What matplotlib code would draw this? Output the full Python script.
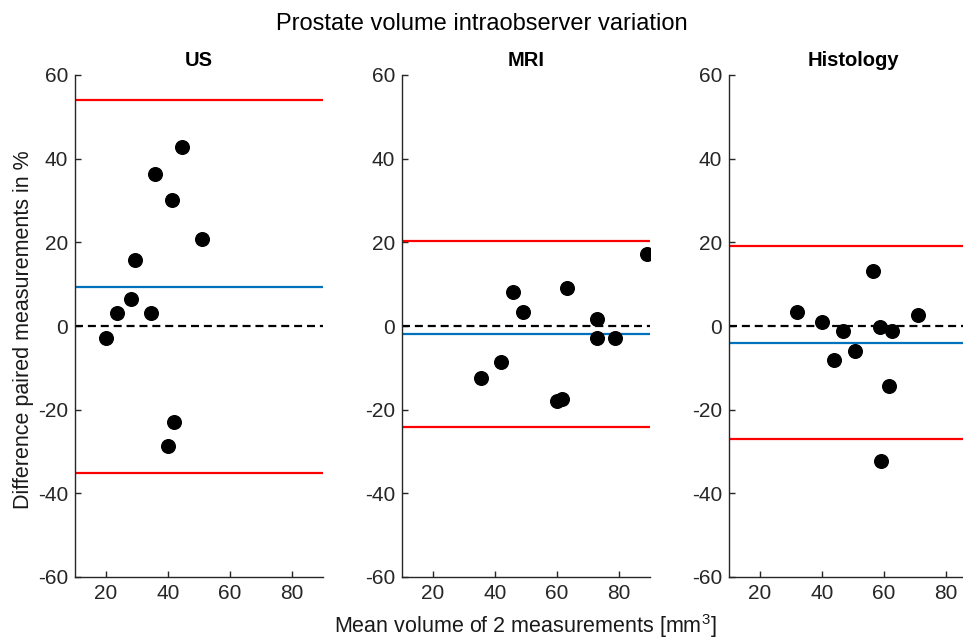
import matplotlib
matplotlib.use("Agg")
import matplotlib.pyplot as plt

plt.rcParams["font.family"] = ["Liberation Sans", "DejaVu Sans"]
plt.rcParams["mathtext.fontset"] = "custom"
plt.rcParams["mathtext.rm"] = "Liberation Sans"
plt.rcParams["axes.unicode_minus"] = False

AXIS_COLOUR = "#262626"
RED = "#FF0000"
BLUE = "#0072BD"

panels = ["US", "MRI", "Histology"]

# mean volume of the two measurements (mm^3) and difference (%)
us_mean = [20.0, 23.4, 28.1, 29.4, 34.5, 35.9, 41.3, 44.4, 50.9, 42.0, 39.9]
us_diff = [-2.9, 3.0, 6.5, 15.8, 3.0, 36.4, 30.1, 42.7, 20.8, -23.0, -28.6]

mri_mean = [89.1, 45.9, 49.1, 63.1, 73.0, 72.8, 78.7, 35.4, 41.9, 60.1, 61.5]
mri_diff = [17.2, 8.2, 3.3, 9.2, 1.6, -2.8, -2.8, -12.4, -8.5, -17.9, -17.5]

hist_mean = [31.8, 39.9, 56.5, 46.9, 58.7, 62.5, 71.1, 44.0, 50.6, 61.7, 59.0]
hist_diff = [3.4, 1.0, 13.1, -1.2, -0.2, -1.1, 2.6, -8.1, -5.9, -14.3, -32.3]

# bias and limits of agreement per panel: (upper, bias, lower)
us_limits = [54.1, 9.4, -35.2]
mri_limits = [20.2, -2.0, -24.2]
hist_limits = [19.1, -4.0, -26.9]

means = [us_mean, mri_mean, hist_mean]
diffs = [us_diff, mri_diff, hist_diff]
limits = [us_limits, mri_limits, hist_limits]

x_ticks = [20, 40, 60, 80]
y_ticks = [-60, -40, -20, 0, 20, 40, 60]

W, H = 963, 640
fig = plt.figure(figsize=(W / 100, H / 100), dpi=100)

lefts = [75, 402, 729]
width = 248
top, bottom = 75, 577

for i, name in enumerate(panels):
    ax = fig.add_axes([lefts[i] / W, 1 - bottom / H, width / W, (bottom - top) / H])
    upper, bias, lower = limits[i]
    xr = [10, 90]
    ax.plot(xr, [0, 0], color="black", linewidth=1.6, dashes=(3.6, 2.2))
    ax.plot(xr, [upper, upper], color=RED, linewidth=1.6)
    ax.plot(xr, [lower, lower], color=RED, linewidth=1.6)
    ax.plot(xr, [bias, bias], color=BLUE, linewidth=1.6)
    ax.plot(means[i], diffs[i], "o", color="black", markersize=9.8, linestyle="none")

    ax.set_xlim(10, 90)
    ax.set_ylim(-60, 60)
    ax.set_xticks(x_ticks)
    ax.set_yticks(y_ticks)
    ax.spines["top"].set_visible(False)
    ax.spines["right"].set_visible(False)
    for side in ["left", "bottom"]:
        ax.spines[side].set_color(AXIS_COLOUR)
        ax.spines[side].set_linewidth(1.0)
    ax.tick_params(direction="in", length=4, width=1.0, colors=AXIS_COLOUR,
                   labelsize=15, labelcolor=AXIS_COLOUR, pad=5)
    fig.text((lefts[i] + width / 2) / W, 1 - 66 / H, name, ha="center",
             va="baseline", fontsize=14.5, fontweight="bold")

fig.text(482 / W, 1 - 30 / H, "Prostate volume intraobserver variation",
         ha="center", va="baseline", fontsize=17)
fig.text(525 / W, 1 - 633 / H, "Mean volume of 2 measurements [mm$^3$]",
         ha="center", va="baseline", fontsize=15.5, color="#1a1a1a")
fig.text(24 / W, 1 - 330 / H, "Difference paired measurements in %",
         ha="center", va="center", rotation=90, fontsize=15.5, color="#1a1a1a")

fig.savefig("out.png", dpi=100)
